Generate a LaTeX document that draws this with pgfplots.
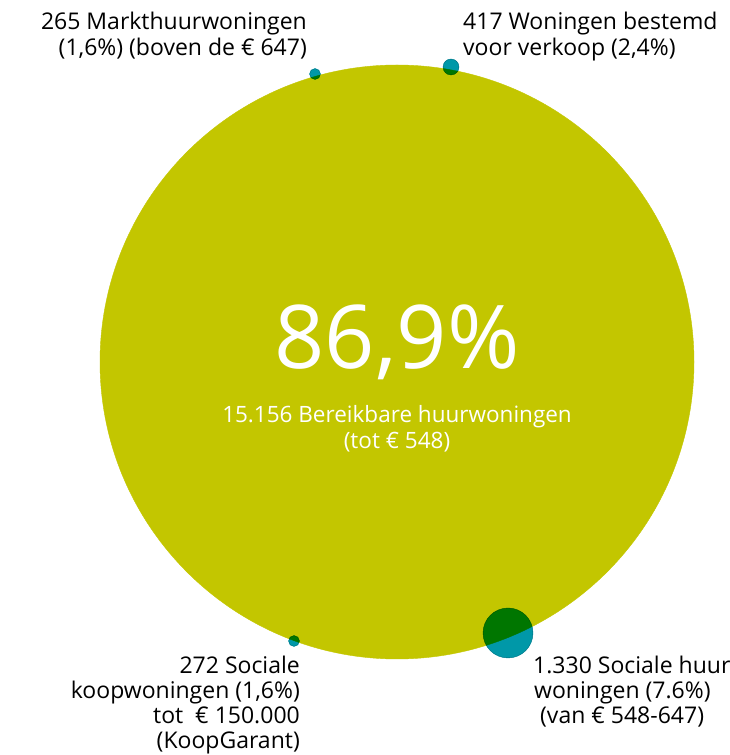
\documentclass[border=0pt]{standalone}
\usepackage{pgfplots}
\pgfplotsset{compat=1.18}
\usepackage{fontspec}
\setmainfont{Open Sans}
\definecolor{lime}{RGB}{195,198,0}
\definecolor{bteal}{RGB}{0,152,168}
\begin{document}
\begin{tikzpicture}
\begin{axis}[width=729pt,height=755pt,scale only axis,hide axis,set layers=standard,
  xmin=0,xmax=729,ymin=0,ymax=755,y dir=reverse,clip=false,clip marker paths=true]
\addplot[only marks,mark=*,color=lime,mark size=297pt,mark options={draw=none,fill=lime}] coordinates {(397,362)};
\addplot[only marks,mark=*,color=bteal,mark size=25pt,mark options={draw=none,fill=bteal,blend mode=multiply}] coordinates {(508,633)};
\addplot[only marks,mark=*,color=bteal,mark size=8pt,mark options={draw=none,fill=bteal,blend mode=multiply}] coordinates {(451,67)};
\addplot[only marks,mark=*,color=bteal,mark size=5.5pt,mark options={draw=none,fill=bteal,blend mode=multiply}] coordinates {(315,74) (294,641)};
% centre texts
\begin{scope}[every node/.style={/pgfplots/on layer=axis foreground,blend mode=normal,inner sep=0pt}]
\node[text=white,anchor=base,font=\fontsize{88}{96}\selectfont] at (axis cs:397,369) {86,9\%};
\node[text=white,anchor=base,font=\fontsize{22.5}{27}\selectfont] at (axis cs:397,423) {15.156 Bereikbare huurwoningen};
\node[text=white,anchor=base,font=\fontsize{22.5}{27}\selectfont] at (axis cs:397,449) {(tot € 548)};
\end{scope}
\begin{scope}[every node/.style={/pgfplots/on layer=axis foreground,blend mode=normal,inner sep=0pt,font=\fontsize{23}{28}\selectfont}]
\node[anchor=base east] at (axis cs:307,30) {265 Markthuurwoningen};
\node[anchor=base east] at (axis cs:307,56) {(1,6\%) (boven de € 647)};
\node[anchor=base west] at (axis cs:463,30) {417 Woningen bestemd};
\node[anchor=base west] at (axis cs:463,56) {voor verkoop (2,4\%)};
\node[anchor=base east] at (axis cs:300,674) {272 Sociale};
\node[anchor=base east] at (axis cs:300,699) {koopwoningen (1,6\%)};
\node[anchor=base east] at (axis cs:300,724) {tot\ \ € 150.000};
\node[anchor=base east] at (axis cs:300,749) {(KoopGarant)};
\node[anchor=base west] at (axis cs:533,674) {1.330 Sociale huur};
\node[anchor=base west] at (axis cs:534,699) {woningen (7.6\%)};
\node[anchor=base west] at (axis cs:534,724) {\ (van € 548-647)};
\end{scope}
\end{axis}
\pgfresetboundingbox
\path (current axis.south west) rectangle (current axis.north east);
\end{tikzpicture}
\end{document}
